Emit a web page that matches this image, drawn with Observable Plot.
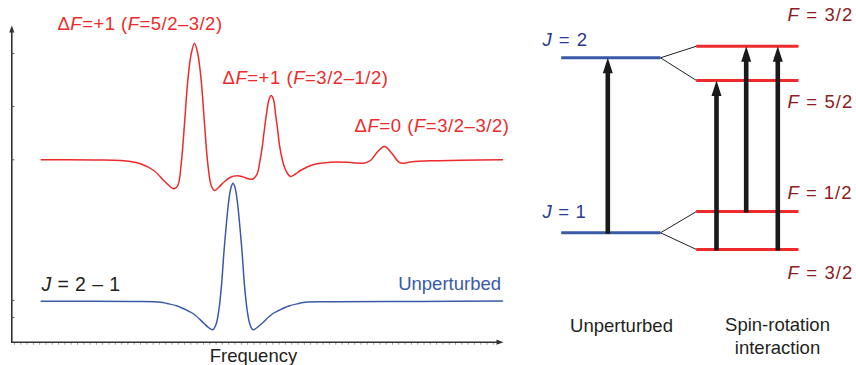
<!DOCTYPE html>
<html>
<head>
<meta charset="utf-8">
<script src="https://cdn.jsdelivr.net/npm/d3@7"></script>
<script src="https://cdn.jsdelivr.net/npm/@observablehq/plot@0.6"></script>
<style>
  html, body { margin: 0; padding: 0; background: #fff; }
  #chart { width: 856px; height: 365px; overflow: hidden; }
</style>
</head>
<body>
<div id="chart"></div>
<script>
// ---------- Left panel: second-derivative spectra (arbitrary units) ----------
const freqRed = [40.7, 100, 130, 140, 153.3, 165, 173.3, 177.3, 180.7, 184, 187.3, 190.7, 194, 197.3, 200.7, 204, 207.3, 210.7, 214, 218.3, 223.3, 230, 236.7, 242, 248, 252, 256.7, 259, 261.7, 264, 266, 268.5, 270.7, 273, 275, 277, 279.3, 282, 284, 287, 290, 295, 300, 313.3, 330, 350, 363.3, 370, 376.7, 384, 391.7, 398.3, 401.7, 410, 430, 460, 502];
const signalRed = [0, -0.2, -1.7, -4, -10.7, -22.4, -29, -25.7, -4, 36, 79.3, 106, 116.6, 106, 79.3, 36, -4, -25.7, -30.7, -27.4, -22.4, -17.4, -16, -16.9, -19, -19.4, -14, -3.7, 12.6, 31.3, 46, 60.3, 64.3, 60.3, 46, 31.3, 12.6, -0.7, -7.4, -13.7, -16.7, -14.2, -10.7, -4.7, -2.4, -2.7, -3.4, -0.7, 7.6, 13.3, 6, -2.4, -3.4, -2.2, -1, -0.5, 0];

const freqBlue = [40.7, 133.3, 160, 166.7, 176.7, 186.7, 193.3, 203.3, 208, 212.3, 215.5, 218.3, 221, 223.3, 226, 228.3, 230.5, 232.5, 234.5, 236.7, 239, 241.7, 244, 246.7, 249.5, 252.5, 256.7, 261.7, 271.7, 278.3, 288.3, 298.3, 305, 333, 420, 502];
const signalBlue = [0, -0.3, -1, -2.3, -4.8, -9.3, -12.8, -22, -26.3, -28.6, -23.3, -9.3, 15.7, 47.4, 78.7, 100.7, 113.7, 118, 113.7, 100.7, 78.7, 47.4, 15.7, -9.3, -23.3, -28.6, -26.3, -22, -12.8, -9.3, -4.8, -2.3, -1, -0.6, -0.3, 0.2];

const redOffset = 182.4;   // vertical offset of the perturbed trace
const blueOffset = 41;     // vertical offset of the unperturbed trace

const peakLabels = ["ΔF=+1 (F=5/2–3/2)", "ΔF=+1 (F=3/2–1/2)", "ΔF=0 (F=3/2–3/2)"];
const traceLabels = ["J = 2 – 1", "Unperturbed"];
const axisLabel = "Frequency";
const yAxisTicks = [288.7, 235.7, 182.4, 41.7, 24.7];

// ---------- Right panel: energy levels ----------
const levelNames = ["J = 2", "J = 1"];
const levelEnergy = [284.4, 109.4];
const splitNames = ["F = 3/2", "F = 5/2", "F = 1/2", "F = 3/2"];
const splitEnergy = [296, 261.7, 130.7, 92.7];
const splitParent = [0, 0, 1, 1];
// transitions: lower -> upper level energies, horizontal position
const transX = [607.3, 716, 745.7, 777.3];
const transFrom = [109.4, 92.7, 130.7, 92.7];
const transTo = [284.4, 261.7, 296, 296];
const panelCaptions = ["Unperturbed", "Spin-rotation\ninteraction"];

// ---------- tables ----------
const red = freqRed.map((f, i) => ({f, s: signalRed[i] + redOffset}));
const blue = freqBlue.map((f, i) => ({f, s: signalBlue[i] + blueOffset}));
const levels = levelNames.map((name, i) => ({name, E: levelEnergy[i]}));
const splits = splitNames.map((name, i) => ({name, E: splitEnergy[i], parent: splitParent[i]}));
const trans = transX.map((x, i) => ({x, from: transFrom[i], to: transTo[i]}));

const RED = "#ee2a2c";
const BLUE = "#3a5aa8";
const DARKRED = "#8e1b20";
const NAVY = "#2b3990";
const INK = "#231f20";

const FONT = "'Liberation Sans', Arial, Helvetica, sans-serif";

const chart = Plot.plot({
  width: 856,
  height: 365,
  margin: 0,
  style: {background: "white", fontFamily: FONT, overflow: "visible"},
  x: {domain: [0, 856], range: [0, 856], axis: null},
  y: {domain: [-23.3, 341.7], range: [365, 0], axis: null},
  marks: [
    // axes
    Plot.link([0], {x1: 11.3, x2: 11.3, y1: -0.8, y2: 311, stroke: "#333", strokeWidth: 1.6}),
    Plot.vector([0], {x: 11.3, y: 309.7, length: 7, r: 2.6, shape: "spike", rotate: 0, anchor: "start", fill: "#333", stroke: "none"}),
    Plot.link([0], {x1: 10.5, x2: 497, y1: 0, y2: 0, stroke: "#333", strokeWidth: 1.6}),
    Plot.vector([0], {x: 496, y: 0, length: 7, r: 2.6, shape: "spike", rotate: 90, anchor: "start", fill: "#333", stroke: "none"}),
    Plot.ruleY([0], {x1: 14, x2: 494, dy: 1.6, stroke: "#777", strokeWidth: 1.2, strokeDasharray: "1,5.3"}),
    Plot.link(yAxisTicks, {x1: 11.3, x2: 13.8, y1: d => d, y2: d => d, stroke: "#555", strokeWidth: 1}),

    // spectra
    Plot.line(red, {x: "f", y: "s", stroke: RED, strokeWidth: 1.5, curve: "catmull-rom"}),
    Plot.line(blue, {x: "f", y: "s", stroke: BLUE, strokeWidth: 1.5, curve: "catmull-rom"}),

    // spectrum labels
    Plot.text(peakLabels, {x: [57, 222, 354], y: [312.7, 257.9, 210.7], text: d => d, textAnchor: "start", lineAnchor: "bottom", fill: RED, fontSize: 18.5}),
    Plot.text([traceLabels[0]], {x: 41, y: 51, text: d => d, textAnchor: "start", lineAnchor: "bottom", fill: INK, fontSize: 19.5}),
    Plot.text([traceLabels[1]], {x: 500.5, y: 52, text: d => d, textAnchor: "end", lineAnchor: "bottom", fill: BLUE, fontSize: 18.5}),
    Plot.text([axisLabel], {x: 253, y: -19.5, text: d => d, textAnchor: "middle", lineAnchor: "bottom", fill: INK, fontSize: 18.5}),

    // energy levels
    Plot.link(splits, {x1: 660, x2: 696, y1: d => levelEnergy[d.parent], y2: "E", stroke: INK, strokeWidth: 1}),
    Plot.link(levels, {x1: 560.7, x2: 660, y1: "E", y2: "E", stroke: BLUE, strokeWidth: 3}),
    Plot.link(splits, {x1: 695.7, x2: 798, y1: "E", y2: "E", stroke: RED, strokeWidth: 3}),

    // transitions
    Plot.link(trans, {x1: "x", x2: "x", y1: d => d.from - 1, y2: d => d.to - 14, stroke: "#1a1a1a", strokeWidth: 4.6}),
    Plot.vector(trans, {x: "x", y: d => d.to - 15.5, length: 15.5, r: 5, shape: "spike", rotate: 0, anchor: "start", fill: "#1a1a1a", stroke: "none"}),

    // level labels
    Plot.text(levels, {x: 542, y: (d, i) => d.E + [12.3, 15.3][i], text: "name", textAnchor: "start", lineAnchor: "bottom", fill: NAVY, fontSize: 18.5}),
    Plot.text(splits, {x: 787, y: (d, i) => d.E + [25.7, -27, 13, -29][i], text: "name", textAnchor: "start", lineAnchor: "bottom", fill: DARKRED, fontSize: 18.5}),

    // panel captions
    Plot.text([panelCaptions[0]], {x: 621, y: 10.7, text: d => d, textAnchor: "middle", lineAnchor: "bottom", fill: INK, fontSize: 18.5}),
    Plot.text([panelCaptions[1]], {x: 777, y: -11.3, text: d => d, textAnchor: "middle", lineAnchor: "bottom", fill: INK, fontSize: 18.5, lineHeight: 1.2})
  ]
});

document.getElementById("chart").appendChild(chart);

// target widths (px) of labels as typeset in the reference
const textWidths = new Map([
  [peakLabels[0], 165], [peakLabels[1], 166], [peakLabels[2], 155],
  [traceLabels[0], 80],
  [levelNames[0], 46.5], [levelNames[1], 45],
  [splitNames[0], 66], [splitNames[1], 66], [splitNames[2], 65]
]);

const SVGNS = "http://www.w3.org/2000/svg";
const texts = Array.from(chart.querySelectorAll("text"));
// remember the original string of each label before adding italic tspans
texts.forEach(t => { t.__label = t.textContent; });

// italic variable symbols
texts.forEach(t => {
  const nodes = [];
  const walker = document.createTreeWalker(t, NodeFilter.SHOW_TEXT);
  while (walker.nextNode()) nodes.push(walker.currentNode);
  nodes.forEach(n => {
    const s = n.nodeValue;
    if (!/[FJ](?=\s?=)/.test(s)) return;
    const frag = document.createDocumentFragment();
    s.split(/([FJ](?=\s?=))/).forEach(part => {
      if (!part) return;
      if (/^[FJ]$/.test(part)) {
        const ts = document.createElementNS(SVGNS, "tspan");
        ts.setAttribute("font-style", "italic");
        ts.textContent = part;
        frag.appendChild(ts);
      } else frag.appendChild(document.createTextNode(part));
    });
    n.parentNode.replaceChild(frag, n);
  });
});

// widen letter spacing so that labels span the same width as in the reference
function fit() {
  texts.forEach(t => {
    const target = textWidths.get(t.__label);
    if (!target) return;
    t.style.letterSpacing = "0px";
    t.setAttribute("letter-spacing", "0");
    const w = t.getBBox().width;
    const n = t.__label.length;
    const ls = Math.max(0, (target - w) / n);
    t.style.letterSpacing = ls.toFixed(2) + "px";
    t.setAttribute("letter-spacing", ls.toFixed(2));
  });
}
fit();
if (document.fonts && document.fonts.ready) document.fonts.ready.then(fit);
</script>
</body>
</html>
